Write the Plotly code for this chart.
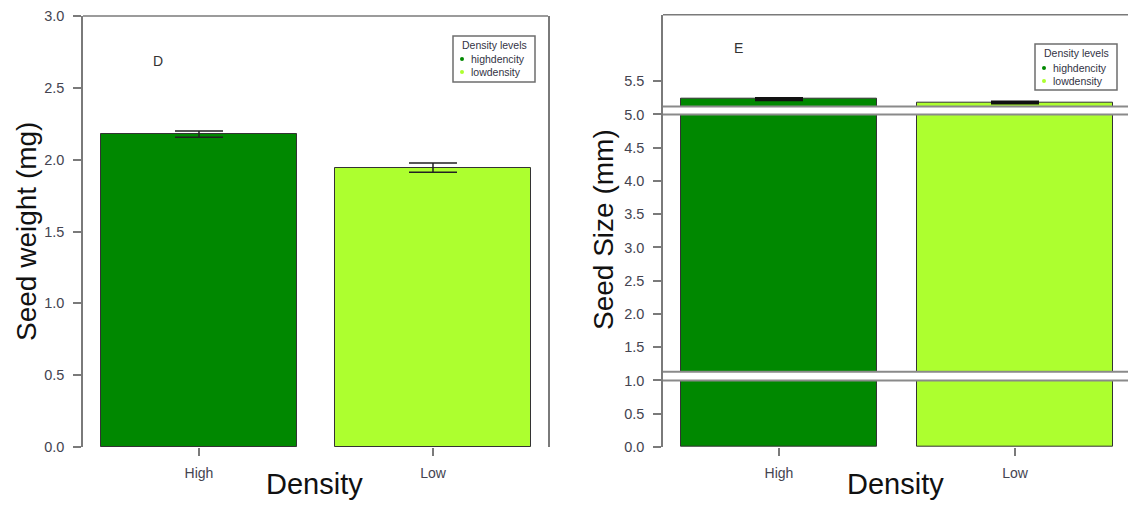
import plotly.graph_objects as go

# ---- data ----
categories = ["High", "Low"]
cat_pos = [0, 1]
weight_mean = [2.178, 1.944]      # seed weight (mg)
weight_err = [0.022, 0.032]
size_mean = [5.23, 5.18]          # seed size (mm)
size_err = [0.012, 0.010]
bar_colors = ["#008800", "#ADFF2F"]
legend_labels = ["highdencity", "lowdensity"]
weight_ticks = [0.0, 0.5, 1.0, 1.5, 2.0, 2.5, 3.0]
size_ticks = [0.0, 0.5, 1.0, 1.5, 2.0, 2.5, 3.0, 3.5, 4.0, 4.5, 5.0, 5.5]
size_breaks = [(1.0, 1.13), (5.0, 5.12)]

W, H = 1128, 505
FONT = "Liberation Sans, Arial, sans-serif"
AXIS_GREY = "#7a7a7a"
TICK_TXT = "#444450"


def px(x):
    return x / W


def py(y):
    return 1 - y / H


fig = go.Figure()

fig.add_trace(go.Bar(
    x=cat_pos, y=weight_mean, width=0.8376,
    marker=dict(color=bar_colors, line=dict(color="#333333", width=1)),
    error_y=dict(type="data", array=weight_err, color="#222222", thickness=1.5, width=24),
    showlegend=False, xaxis="x", yaxis="y",
))
fig.add_trace(go.Bar(
    x=cat_pos, y=size_mean, width=0.8305,
    marker=dict(color=bar_colors, line=dict(color="#333333", width=1)),
    error_y=dict(type="data", array=size_err, color="#111111", thickness=2.5, width=24),
    showlegend=False, xaxis="x2", yaxis="y2",
))

xaxis_common = dict(
    tickmode="array", tickvals=cat_pos, ticktext=categories,
    showline=False, showgrid=False, zeroline=False, automargin=False,
    ticks="outside", ticklen=8, tickwidth=1.5, tickcolor=AXIS_GREY,
    tickfont=dict(family=FONT, size=14, color=TICK_TXT),
    ticklabelstandoff=5,
)
yaxis_common = dict(
    showline=True, linecolor=AXIS_GREY, linewidth=1.5,
    showgrid=False, zeroline=False, automargin=False,
    ticks="outside", ticklen=8, tickwidth=1.5, tickcolor=AXIS_GREY,
    tickfont=dict(family=FONT, size=14.5, color=TICK_TXT),
    tickformat=".1f", ticklabelstandoff=6,
)

fig.update_layout(
    width=W, height=H,
    margin=dict(l=0, r=0, t=0, b=0, autoexpand=False),
    paper_bgcolor="white", plot_bgcolor="white",
    bargap=0,
    xaxis=dict(domain=[px(83), px(548)], range=[-0.4957, 1.4915], anchor="y", **xaxis_common),
    yaxis=dict(domain=[py(447), py(16)], range=[0, 3.0], anchor="x",
               tickvals=weight_ticks, mirror=True, **yaxis_common),
    xaxis2=dict(domain=[px(663), 1.0], range=[-0.4915, 1.4788], anchor="y2", **xaxis_common),
    yaxis2=dict(domain=[py(447), py(14.7)], range=[0, 6.5], anchor="x2",
                tickvals=size_ticks, mirror=False, **yaxis_common),
)

shapes = []
# top frame lines
shapes.append(dict(type="line", xref="x domain", yref="y domain", x0=0, x1=1, y0=1, y1=1,
                   line=dict(color=AXIS_GREY, width=1.5)))
shapes.append(dict(type="line", xref="x2 domain", yref="y2 domain", x0=0, x1=1, y0=1, y1=1,
                   line=dict(color=AXIS_GREY, width=1.5)))
# axis break markers on the seed size panel
for lo, hi in size_breaks:
    shapes.append(dict(type="rect", xref="x2 domain", yref="y2", x0=0.003, x1=1, y0=lo, y1=hi,
                       fillcolor="white", line=dict(width=0), layer="above"))
    for yv in (lo, hi):
        shapes.append(dict(type="line", xref="x2 domain", yref="y2", x0=0, x1=1, y0=yv, y1=yv,
                           line=dict(color="#8a8a8a", width=2), layer="above"))

annotations = []


def text(x, y, s, size, color="#111111", xanchor="center", angle=0):
    annotations.append(dict(xref="paper", yref="paper", x=px(x), y=py(y), text=s,
                            showarrow=False, xanchor=xanchor, yanchor="middle",
                            textangle=angle,
                            font=dict(family=FONT, size=size, color=color)))


# axis titles
text(27, 232, "Seed weight (mg)", 28, angle=-90)
text(604, 230, "Seed Size (mm)", 28, angle=-90)
text(314, 484, "Density", 29)
text(895, 484, "Density", 29)
# panel letters
text(158, 61, "D", 14, color="#333333")
text(738, 48, "E", 14, color="#333333")


def legend_box(x0, y0, x1, y1, title_y, row_ys, dot_x, txt_x):
    shapes.append(dict(type="rect", xref="paper", yref="paper",
                       x0=px(x0), x1=px(x1), y0=py(y0), y1=py(y1),
                       fillcolor="white", line=dict(color="#6e6e6e", width=1.5)))
    text((x0 + x1) / 2, title_y, "Density levels", 10.5, color="#333344")
    for ry, lab, col in zip(row_ys, legend_labels, bar_colors):
        shapes.append(dict(type="circle", xref="paper", yref="paper",
                           x0=px(dot_x - 2), x1=px(dot_x + 2), y0=py(ry - 2), y1=py(ry + 2),
                           fillcolor=col, line=dict(width=0)))
        text(txt_x, ry, lab, 10.5, color="#333344", xanchor="left")


legend_box(453, 36, 535, 82, 45, [59, 72], 462, 469)
legend_box(1035, 44, 1117, 90, 53, [68, 81], 1044, 1051)

fig.update_layout(shapes=shapes, annotations=annotations)

fig.write_html("out.html")
